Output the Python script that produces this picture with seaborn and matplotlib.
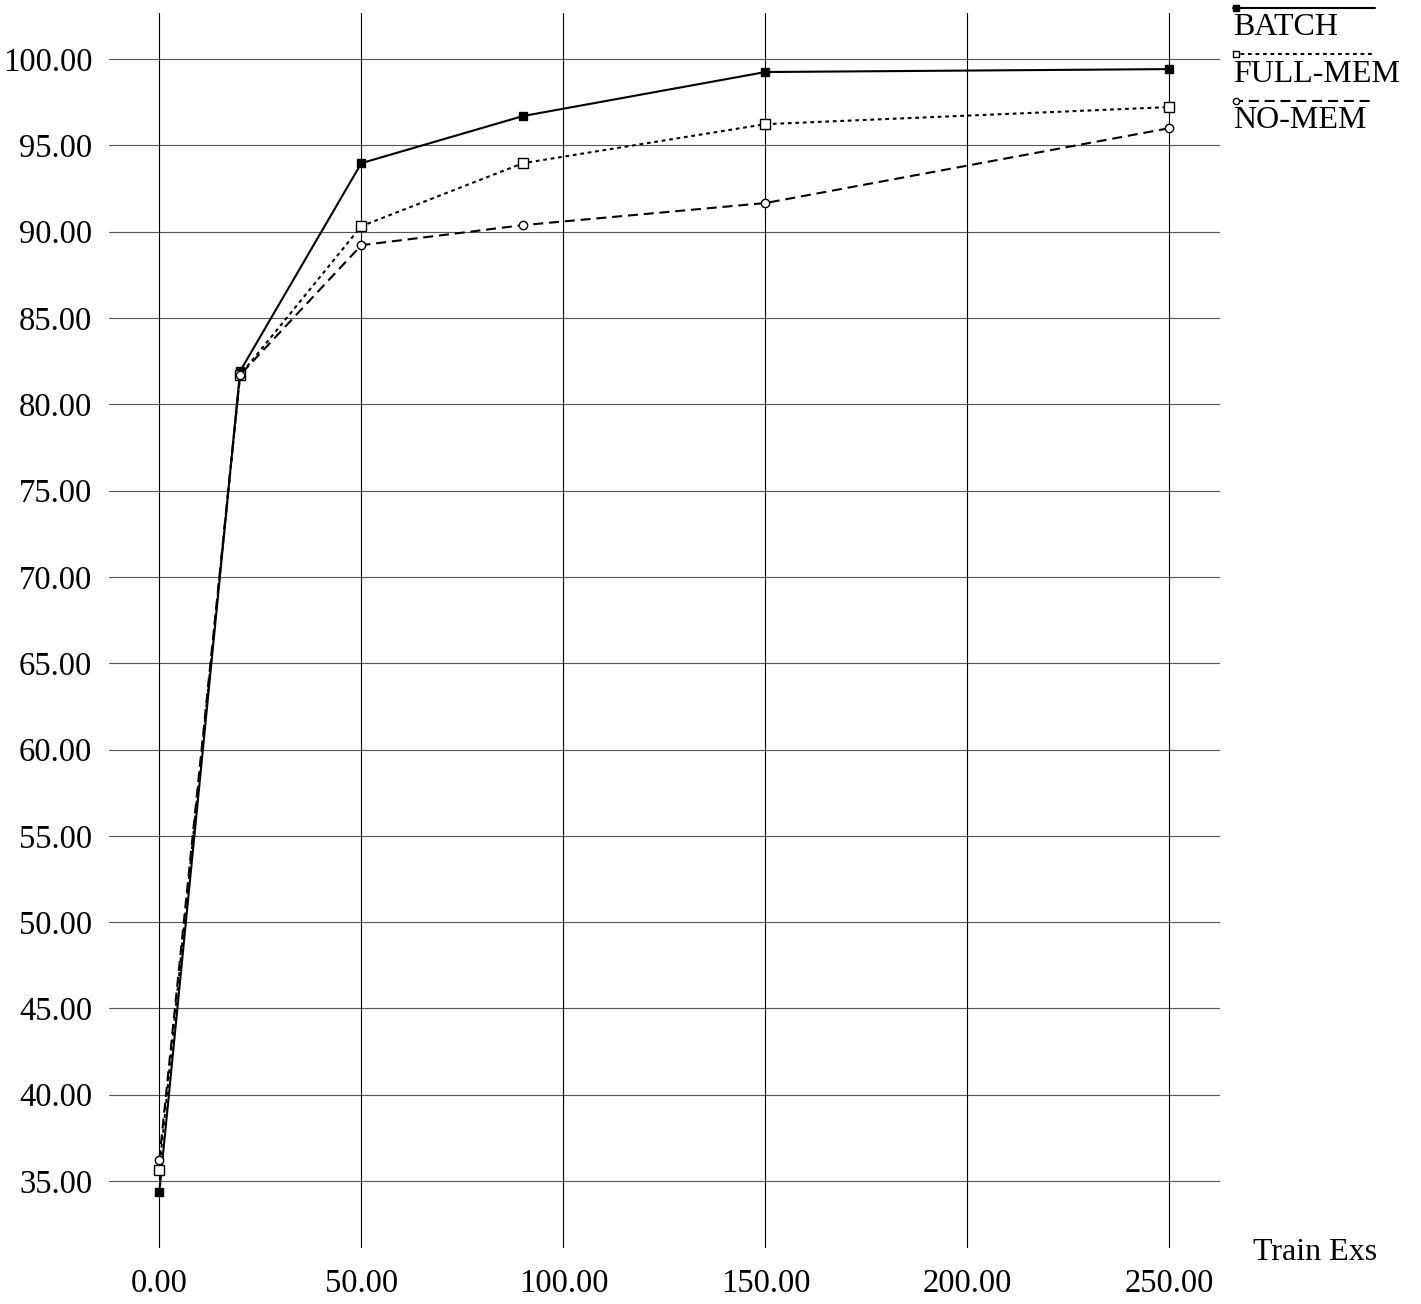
import matplotlib
matplotlib.use("Agg")
import matplotlib.pyplot as plt
from matplotlib.lines import Line2D
import seaborn as sns
import pandas as pd

# ---- data ----
train_exs = [0, 20, 50, 90, 150, 250]
batch = [34.36, 81.92, 93.97, 96.70, 99.25, 99.42]
full_mem = [35.64, 81.69, 90.32, 93.97, 96.23, 97.22]
no_mem = [36.22, 81.70, 89.22, 90.38, 91.66, 96.00]
series_names = ["BATCH", "FULL-MEM", "NO-MEM"]
x_ticks = [0, 50, 100, 150, 200, 250]
y_ticks = [35, 40, 45, 50, 55, 60, 65, 70, 75, 80, 85, 90, 95, 100]
x_label = "Train Exs"

sns.set_theme(style="white")
plt.rcParams["font.family"] = ["Liberation Serif", "DejaVu Serif"]
plt.rcParams["text.color"] = "black"
plt.rcParams["xtick.color"] = "black"
plt.rcParams["ytick.color"] = "black"

W, H = 1421, 1304
fig = plt.figure(figsize=(W / 100, H / 100), dpi=100)
ax = fig.add_axes([109 / W, 1 - 1248 / H, (1220 - 109) / W, (1248 - 13) / H])

ax.set_xlim(-12.45, 262.5)
ax.set_ylim(31.12, 102.67)

for s in ax.spines.values():
    s.set_visible(False)

# grid lines
for yv in y_ticks:
    ax.axhline(yv, color="#555555", lw=0.8, zorder=1)
for xv in x_ticks:
    ax.axvline(xv, color="black", lw=0.8, zorder=1)

df = pd.DataFrame({"x": train_exs, "BATCH": batch, "FULL-MEM": full_mem, "NO-MEM": no_mem})

styles = {
    "BATCH": dict(dashes=None, marker="s", mfc="black", ms=6),
    "FULL-MEM": dict(dashes=(1.8, 1.8), marker="s", mfc="white", ms=6.5),
    "NO-MEM": dict(dashes=(4.8, 2.8), marker="o", mfc="white", ms=6),
}

for name in series_names:
    st = styles[name]
    sns.lineplot(data=df, x="x", y=name, ax=ax, color="black", lw=1.5,
                 marker=st["marker"], markerfacecolor=st["mfc"],
                 markeredgecolor="black", markeredgewidth=1.0,
                 markersize=st["ms"], zorder=3)
    line = ax.lines[-1]
    if st["dashes"] is not None:
        line.set_dashes(st["dashes"])

ax.set_xticks(x_ticks)
ax.set_yticks(y_ticks)
ax.set_xticklabels([f"{v:.2f}" for v in x_ticks], fontsize=23.5, color="black")
ax.set_yticklabels([f"{v:.2f}" for v in y_ticks], fontsize=23.5, color="black")
ax.tick_params(axis="both", length=0, colors="black")
ax.tick_params(axis="y", pad=12)
ax.tick_params(axis="x", pad=15)
ax.set_xlabel("")
ax.set_ylabel("")
ax.grid(False)

# axis title
fig.text(1253 / W, 1 - 1260 / H, x_label, fontsize=23, ha="left", va="baseline", color="black")

# legend (manual)
leg_items = [
    ("BATCH", 8, 35, None, "s", "black", 5),
    ("FULL-MEM", 54, 82, (1.8, 1.8), "s", "white", 4.5),
    ("NO-MEM", 101, 128, (4.8, 2.8), "o", "white", 4.5),
]
for name, ly, by, dash, mk, mfc, ms in leg_items:
    ln = Line2D([1233 / W, 1375 / W], [1 - ly / H, 1 - ly / H], transform=fig.transFigure,
                color="black", lw=1.5)
    if dash is not None:
        ln.set_dashes(dash)
    fig.add_artist(ln)
    mkl = Line2D([1236 / W], [1 - ly / H], transform=fig.transFigure, marker=mk,
                 mfc=mfc, mec="black", mew=1.0, ms=ms, lw=0)
    fig.add_artist(mkl)
    fig.text(1233 / W, 1 - by / H, name, fontsize=23, ha="left", va="baseline", color="black")

fig.savefig("out.png", dpi=100, facecolor="white")
